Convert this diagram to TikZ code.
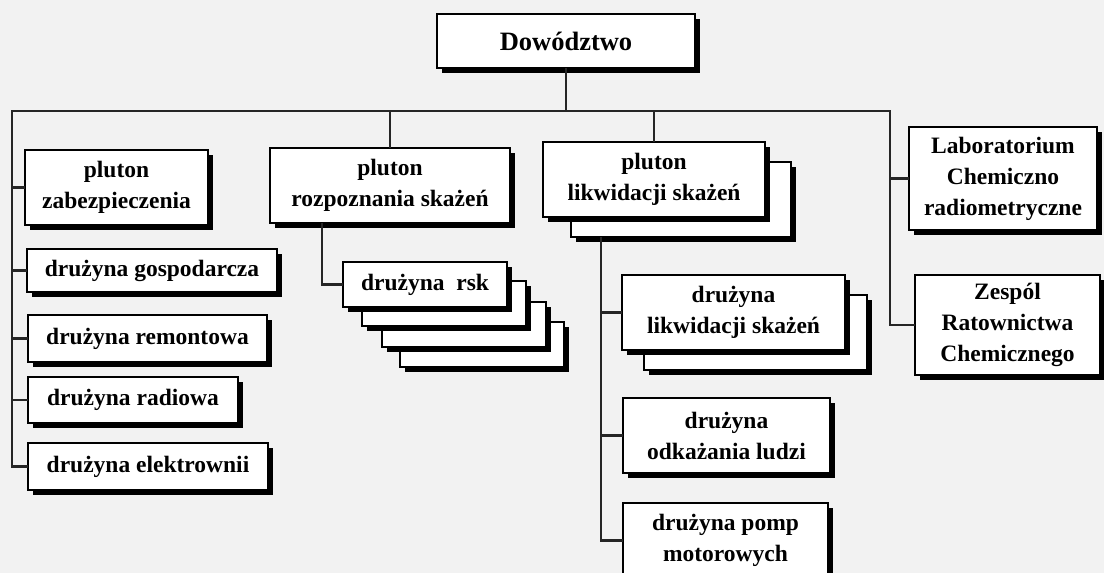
\documentclass[tikz,border=0pt]{standalone}
\usepackage{fontspec}
\setmainfont{Liberation Serif}
\usetikzlibrary{shadows,calc}
\begin{document}
\begin{tikzpicture}[x=1pt,y=-1pt,
  unit/.style 2 args={draw=black, line width=2.2pt, fill=white,
    minimum width=#1, minimum height=#2, inner sep=0pt, align=center,
    font=\bfseries\fontsize{23.5}{31}\selectfont,
    drop shadow={shadow xshift=5pt, shadow yshift=-5pt, fill=black, opacity=1}},
  link/.style={line width=2.4pt, draw=black!85, line cap=rect}]

\clip (0,0) rectangle (1104,573);
\fill[white!95!black] (0,0) rectangle (1104,573);

% command
\node[unit={258pt}{54pt}, font=\bfseries\fontsize{26.5}{31}\selectfont] (dow) at (566,41) {Dowództwo};

% left branch
\node[unit={183pt}{75pt}] (zab)  at (116.5,187.5) {pluton\\zabezpieczenia};
\node[unit={250pt}{43pt}] (gosp) at (152,270.5) {drużyna gospodarcza};
\node[unit={239pt}{47pt}] (rem)  at (147.5,338.5) {drużyna remontowa};
\node[unit={210pt}{46pt}] (rad)  at (133,400) {drużyna radiowa};
\node[unit={240pt}{47pt}] (elek) at (148,466.5) {drużyna elektrownii};

% reconnaissance platoon with its stacked squads
\node[unit={240pt}{75pt}] (roz) at (390,185.5) {pluton\\rozpoznania skażeń};
\node[unit={164pt}{45pt}] (rsk3) at (482,344.5) {};
\node[unit={164pt}{45pt}] (rsk2) at (464,324.5) {};
\node[unit={164pt}{45pt}] (rsk1) at (444,303.5) {};
\node[unit={164pt}{45pt}] (rsk)  at (425,284.5) {drużyna\ \ rsk};

% decontamination platoon
\node[unit={220pt}{75pt}] (likb) at (681,199.5) {};
\node[unit={222pt}{75pt}] (lik)  at (654,179.5) {pluton\\likwidacji skażeń};
\node[unit={223pt}{75pt}] (dlsb) at (755.5,332.5) {};
\node[unit={223pt}{75pt}] (dls)  at (733.5,312.5) {drużyna\\likwidacji skażeń};
\node[unit={207pt}{75pt}] (odk)  at (726.5,435.5) {drużyna\\odkażania ludzi};
\node[unit={205pt}{75pt}] (pomp) at (725.5,540.5) {drużyna pomp\\motorowych};

% right branch
\node[unit={188pt}{103pt}] (lab)  at (1003,178.5) {Laboratorium\\Chemiczno\\radiometryczne};
\node[unit={185pt}{100pt}] (zesp) at (1007.5,325) {Zespól\\Ratownictwa\\Chemicznego};

% main bar
\coordinate (barL) at (12,111);
\coordinate (barR) at (890,111);
\draw[link] (barL) -- (barR);
\draw[link] (dow.south) -- (dow.south |- barL);
\draw[link] (roz.north) -- (roz.north |- barL);
\draw[link] (lik.north) -- (lik.north |- barL);

% left spine
\draw[link] (barL) -- (barL |- elek.west) -- (elek.west);
\foreach \n in {zab,gosp,rem,rad}
  \draw[link] (barL |- \n.west) -- (\n.west);

% right spine
\draw[link] (barR) -- (barR |- zesp.west) -- (zesp.west);
\draw[link] (barR |- lab.west) -- (lab.west);

% reconnaissance squad link
\coordinate (rozdrop) at ($(roz.south west)!0.22!(roz.south east)$);
\draw[link] (rozdrop) -- (rozdrop |- rsk.west) -- (rsk.west);

% decontamination spine
\coordinate (likdrop) at ($(likb.south west)!0.14!(likb.south east)$);
\draw[link] (likdrop) -- (likdrop |- pomp.west) -- (pomp.west);
\draw[link] (likdrop |- dls.west) -- (dls.west);
\draw[link] (likdrop |- odk.west) -- (odk.west);

\end{tikzpicture}
\end{document}
